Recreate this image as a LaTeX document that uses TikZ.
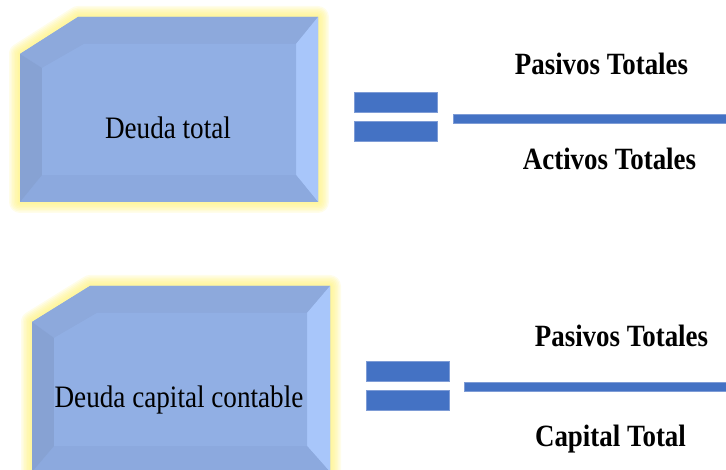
\documentclass[tikz,border=0pt]{standalone}
\usepackage{fontspec}
\setmainfont{Liberation Serif}
\newfontfamily\narrowserif[FakeStretch=0.87]{Liberation Serif}
\begin{document}
\begin{tikzpicture}[x=0.75pt,y=-0.75pt,
  glow/.style={draw=glowYellow, line join=round, opacity=0.16},
  bevtop/.style={fill=bevTop},
  bevright/.style={fill=bevRight},
  bevbottom/.style={fill=bevBottom},
  bevleft/.style={fill=bevLeft},
  face/.style={fill=faceBlue},
  eqbar/.style={fill=eqBlue, draw=eqEdge, line width=0.6pt},
  boxtext/.style={font=\narrowserif\fontsize{23.4}{26}\selectfont, text=black, inner sep=0pt},
  fractext/.style={font=\narrowserif\fontsize{23.2}{26}\selectfont\bfseries, text=black, inner sep=0pt}]
\definecolor{bevTop}{HTML}{8DA9DC}
\definecolor{bevRight}{HTML}{A8C6FA}
\definecolor{bevBottom}{HTML}{8CA9DE}
\definecolor{bevLeft}{HTML}{87A2D3}
\definecolor{faceBlue}{HTML}{91AFE4}
\definecolor{eqBlue}{HTML}{4472C4}
\definecolor{eqEdge}{HTML}{7E9CD6}
\definecolor{glowYellow}{HTML}{FFF27A}

\useasboundingbox (0,0) rectangle (726,470);
\clip (0,0) rectangle (726,470);

% ---- upper box: Deuda total ----
\coordinate (A1) at (20,54);  \coordinate (B1) at (78,17);
\coordinate (C1) at (318,17); \coordinate (D1) at (318,202);
\coordinate (E1) at (20,202);
\coordinate (a1) at (42,68);  \coordinate (b1) at (84,44);
\coordinate (c1) at (296,44); \coordinate (d1) at (296,175);
\coordinate (e1) at (42,175);
\foreach \w in {22,19,16,13,10,7,4} {
  \draw[glow, line width=\w*0.75pt] (A1) -- (B1) -- (C1) -- (D1) -- (E1) -- cycle;
}
\fill[face] (A1) -- (B1) -- (C1) -- (D1) -- (E1) -- cycle;
\fill[bevtop] (A1) -- (B1) -- (C1) -- (c1) -- (b1) -- (a1) -- cycle;
\fill[bevright] (C1) -- (D1) -- (d1) -- (c1) -- cycle;
\fill[bevbottom] (D1) -- (E1) -- (e1) -- (d1) -- cycle;
\fill[bevleft] (E1) -- (A1) -- (a1) -- (e1) -- cycle;
\fill[face] (a1) -- (b1) -- (c1) -- (d1) -- (e1) -- cycle;
\node[boxtext, anchor=base] (t1) at (168,139) {Deuda total};

% ---- lower box: Deuda capital contable ----
\coordinate (A2) at (32,322);  \coordinate (B2) at (90,286);
\coordinate (C2) at (330,286); \coordinate (D2) at (330,472);
\coordinate (E2) at (32,472);
\coordinate (a2) at (54,338);  \coordinate (b2) at (97,313);
\coordinate (c2) at (307,313); \coordinate (d2) at (307,446);
\coordinate (e2) at (54,446);
\foreach \w in {22,19,16,13,10,7,4} {
  \draw[glow, line width=\w*0.75pt] (A2) -- (B2) -- (C2) -- (D2) -- (E2) -- cycle;
}
\fill[face] (A2) -- (B2) -- (C2) -- (D2) -- (E2) -- cycle;
\fill[bevtop] (A2) -- (B2) -- (C2) -- (c2) -- (b2) -- (a2) -- cycle;
\fill[bevright] (C2) -- (D2) -- (d2) -- (c2) -- cycle;
\fill[bevbottom] (D2) -- (E2) -- (e2) -- (d2) -- cycle;
\fill[bevleft] (E2) -- (A2) -- (a2) -- (e2) -- cycle;
\fill[face] (a2) -- (b2) -- (c2) -- (d2) -- (e2) -- cycle;
\node[boxtext, anchor=base] (t2) at (179,408) {Deuda capital contable};

% ---- first equation ----
\draw[eqbar] (354,92) rectangle (437,112);
\draw[eqbar] (354,121) rectangle (437,141);
\draw[eqbar] (453,114) rectangle (740,123);
\node[fractext, anchor=base] (n1) at (601.5,75) {Pasivos Totales};
\node[fractext, anchor=base] (d1) at (609.5,170) {Activos Totales};

% ---- second equation ----
\draw[eqbar] (366,361) rectangle (449,381);
\draw[eqbar] (366,390) rectangle (449,410);
\draw[eqbar] (464,382) rectangle (740,391);
\node[fractext, anchor=base] (n2) at (621.5,347) {Pasivos Totales};
\node[fractext, anchor=base] (d2) at (610.5,447) {Capital Total};
\end{tikzpicture}
\end{document}
